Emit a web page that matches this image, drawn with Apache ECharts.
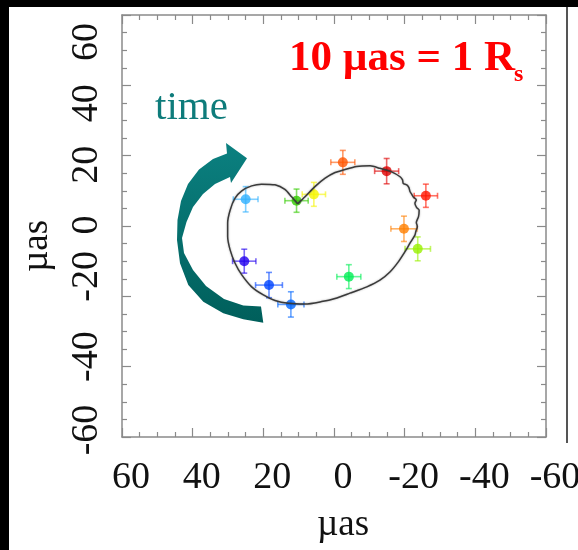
<!DOCTYPE html>
<html>
<head>
<meta charset="utf-8">
<script src="https://cdn.jsdelivr.net/npm/echarts@6/dist/echarts.min.js"></script>
<style>
  html, body { margin: 0; padding: 0; background: #fff; }
  #chart { width: 578px; height: 550px; }
</style>
</head>
<body>
<div id="chart"></div>
<script>
// source positions (µas), x runs right-to-left
const ptX = [25.0, 10.6, 5.7, -2.5, -14.9, -26.0, -19.8, -23.7, -4.2, 12.2, 18.4, 25.4]
const ptY = [7.6, 7.2, 9.0, 18.1, 15.6, 8.6, -0.8, -6.5, -14.4, -22.3, -16.8, -10.0]
const errX = [3.5, 3.3, 3.3, 3.4, 3.4, 3.3, 3.7, 3.6, 3.4, 3.7, 3.8, 3.3]
const errY = [3.6, 3.3, 3.4, 3.4, 3.6, 3.3, 3.6, 3.4, 3.4, 3.6, 3.6, 3.4]

// model track
const curveX = [10.3, 12.0, 13.9, 16.7, 20.5, 23.3, 26.1, 28.0, 29.4, 30.1, 30.1, 29.4, 28.0, 26.1,
  23.3, 20.0, 16.7, 12.9, 8.2, 3.5, -0.3, -4.5, -9.3, -13.0, -15.9, -18.2, -20.1, -21.5, -22.9,
  -23.2, -23.6, -23.3, -23.9, -24.1, -23.4, -22.9, -23.3, -22.4, -22.0, -21.5, -21.2, -20.6,
  -19.6, -19.4, -18.7, -16.3, -13.0, -10.2, -6.4, -2.6, -0.3, 2.5, 5.4, 8.2, 10.3]
const curveY = [6.3, 8.3, 10.4, 11.7, 11.9, 11.4, 10.0, 7.9, 4.5, 0.8, -3.0, -6.8, -10.6, -13.9,
  -17.3, -19.6, -21.2, -22.0, -22.2, -21.5, -20.6, -19.1, -17.3, -15.4, -13.0, -10.2, -7.3, -4.9, -2.6,
  -1.4, -0.2, 1.0, 2.6, 4.5, 5.2, 6.5, 7.4, 8.3, 9.0, 9.8, 10.9, 11.7,
  12.1, 13.1, 14.0, 15.4, 16.4, 17.1, 16.9, 15.9, 15.2, 13.6, 11.2, 8.3, 6.3]

const axisTicks = [-60, -40, -20, 0, 20, 40, 60]

const ptColors = ['#2fb0ff', '#33cc00', '#f5f500', '#ff5500', '#dd0000', '#ff1500',
  '#ff7f00', '#99f000', '#00ee55', '#0066ff', '#0044ff', '#2200ee']

const chart = echarts.init(document.getElementById('chart'))

const serif = '"Liberation Serif", "Times New Roman", serif'
const frame = { color: '#8a8a8a', width: 1.5 }

// rotated y labels sit a bit off their ticks in the original
const yShift = { '60': 27, '40': 18, '20': 9, '0': -1, '-20': -20, '-40': -10, '-60': -7 }
const yRich = {}
axisTicks.forEach((v, i) => {
  const s = yShift[String(v)]
  yRich['p' + i] = {
    fontSize: 38, fontFamily: serif, color: '#111',
    padding: s > 0 ? [0, 2 * s, 0, 0] : [0, 0, 0, -2 * s]
  }
})

const baseAxis = {
  type: 'value',
  min: -60,
  max: 60,
  interval: 20,
  splitLine: { show: false },
  axisLine: { show: true, onZero: false, lineStyle: frame },
  axisTick: { show: true, inside: true, length: 9, lineStyle: { color: '#8a8a8a', width: 1.2 } },
  minorTick: { show: true, splitNumber: 4, length: 5, lineStyle: { color: '#8a8a8a', width: 1.2 } }
}

const errData = ptX.map((x, i) => [x, ptY[i], errX[i], errY[i]])

// curved "time" arrow, pixel outline
const arrowPts = [
  [226, 143], [247, 158.3], [231, 183], [230, 177], [215, 184], [203, 194],
  [193, 207], [186.5, 222], [182, 238], [184, 253], [193, 270], [206, 286],
  [224, 299], [243.3, 305.5], [261, 306.5], [263.3, 322.7], [243.3, 319.3], [223.3, 313.3],
  [203.3, 301.7], [188.3, 285], [180, 263.3], [177, 240], [177.5, 220], [181, 201],
  [188, 184], [199, 169.5], [213, 159], [227, 153.5]
]

const option = {
  animation: false,
  backgroundColor: '#fff',
  grid: { left: 122, right: 32, top: 15, bottom: 113, containLabel: false, outerBoundsMode: 'none' },
  xAxis: [
    Object.assign({}, baseAxis, {
      position: 'bottom',
      inverse: true,
      name: 'µas',
      nameLocation: 'middle',
      nameGap: 70,
      nameTextStyle: { fontSize: 37, fontFamily: serif, color: '#111', padding: [0, 0, 0, 18] },
      axisLabel: {
        show: true, margin: 22, fontSize: 38, fontFamily: serif, color: '#111',
        padding: [0, 0, 0, 18], showMinLabel: true, showMaxLabel: true
      }
    }),
    Object.assign({}, baseAxis, { position: 'top', inverse: true, axisLabel: { show: false } })
  ],
  yAxis: [
    Object.assign({}, baseAxis, {
      position: 'left',
      name: 'µas',
      nameLocation: 'middle',
      nameRotate: 90,
      nameGap: 66,
      nameTextStyle: { fontSize: 37, fontFamily: serif, color: '#111', padding: [0, 40, 0, 0] },
      axisLabel: {
        show: true, rotate: 90, margin: 16, showMinLabel: true, showMaxLabel: true,
        formatter: v => '{p' + axisTicks.indexOf(v) + '|' + v + '}',
        rich: yRich
      }
    }),
    Object.assign({}, baseAxis, { position: 'right', axisLabel: { show: false } })
  ],
  series: [
    {
      type: 'custom',
      name: 'errors',
      z: 2,
      data: errData,
      renderItem: (params, api) => {
        const x = api.value(0), y = api.value(1), ex = api.value(2), ey = api.value(3)
        const l = api.coord([x - ex, y]), r = api.coord([x + ex, y])
        const t = api.coord([x, y + ey]), b = api.coord([x, y - ey])
        const cap = 3
        const style = { stroke: ptColors[params.dataIndex], lineWidth: 1.6, opacity: 0.6 }
        const seg = (x1, y1, x2, y2) => ({ type: 'line', shape: { x1, y1, x2, y2 }, style })
        return {
          type: 'group',
          children: [
            seg(l[0], l[1], r[0], r[1]),
            seg(t[0], t[1], b[0], b[1]),
            seg(l[0], l[1] - cap, l[0], l[1] + cap),
            seg(r[0], r[1] - cap, r[0], r[1] + cap),
            seg(t[0] - cap, t[1], t[0] + cap, t[1]),
            seg(b[0] - cap, b[1], b[0] + cap, b[1])
          ]
        }
      }
    },
    {
      type: 'scatter',
      z: 3,
      symbolSize: 10,
      data: ptX.map((x, i) => ({ value: [x, ptY[i]], itemStyle: { color: ptColors[i] } }))
    },
    {
      type: 'line',
      z: 4,
      showSymbol: false,
      smooth: 0.25,
      data: curveX.map((x, i) => [x, curveY[i]]),
      lineStyle: { color: '#3a3a3a', width: 1.5, shadowColor: 'rgba(0,0,0,0.35)', shadowBlur: 2 }
    }
  ],
  graphic: [
    { type: 'rect', z: 100, shape: { x: 0, y: 0, width: 578, height: 7 }, style: { fill: '#000' } },
    { type: 'rect', z: 100, shape: { x: 0, y: 0, width: 9, height: 550 }, style: { fill: '#000' } },
    { type: 'line', z: 100, shape: { x1: 567, y1: 7, x2: 567, y2: 443 }, style: { stroke: '#555', lineWidth: 2 } },
    {
      type: 'polygon',
      z: 5,
      shape: { points: arrowPts },
      style: {
        fill: {
          type: 'linear', x: 0, y: 0, x2: 0, y2: 1,
          colorStops: [{ offset: 0, color: '#0b8080' }, { offset: 1, color: '#005f5b' }]
        }
      }
    },
    {
      type: 'text', z: 6, x: 155, y: 108,
      style: { text: 'time', fontSize: 41, fontFamily: serif, fill: '#0e7c7b', verticalAlign: 'middle', align: 'left' }
    },
    {
      type: 'text', z: 6, x: 289, y: 58.5,
      style: { text: '10 µas = 1 R', fontSize: 43, fontWeight: 'bold', fontFamily: serif, fill: '#ff0000', verticalAlign: 'middle', align: 'left' }
    },
    {
      type: 'text', z: 6, x: 514, y: 75,
      style: { text: 's', fontSize: 24, fontWeight: 'bold', fontFamily: serif, fill: '#ff0000', verticalAlign: 'middle', align: 'left' }
    }
  ]
}

chart.setOption(option)
</script>
</body>
</html>
